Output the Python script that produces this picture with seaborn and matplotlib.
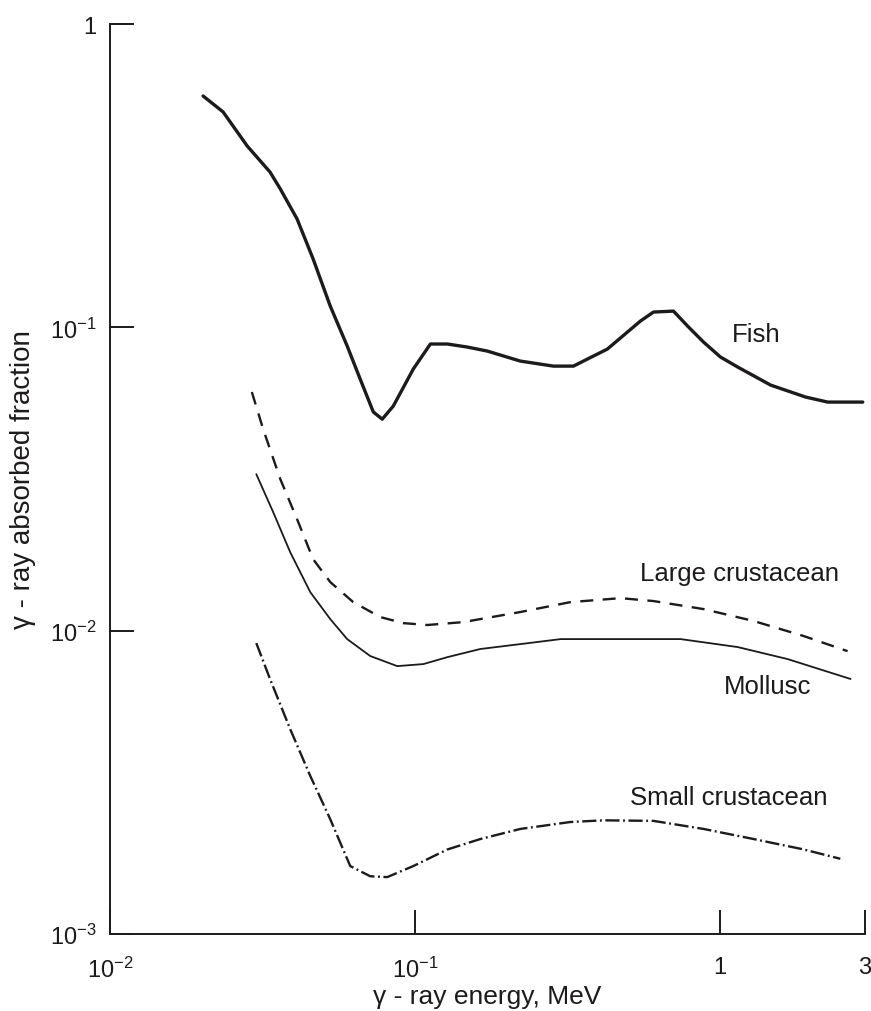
import matplotlib
matplotlib.use("Agg")
import matplotlib.pyplot as plt
import seaborn as sns
import pandas as pd

# ---- data ----
fish_x = [0.0202, 0.0235, 0.0282, 0.0335, 0.0362, 0.0411, 0.0464, 0.0528, 0.060, 0.0662,
          0.0731, 0.0782, 0.085, 0.0989, 0.1125, 0.128, 0.1487, 0.173, 0.222, 0.285,
          0.3316, 0.3685, 0.4285, 0.4986, 0.550, 0.607, 0.706, 0.785, 0.886, 1.007,
          1.146, 1.471, 1.916, 2.264, 2.95]
fish_y = [0.579, 0.513, 0.396, 0.325, 0.286, 0.2276, 0.168, 0.1175, 0.0868, 0.0675,
          0.0526, 0.0498, 0.055, 0.0729, 0.0881, 0.0881, 0.0861, 0.0835, 0.0774, 0.0745,
          0.0745, 0.0786, 0.0848, 0.0965, 0.1049, 0.1123, 0.1131, 0.101, 0.0894, 0.0798,
          0.074, 0.0645, 0.0589, 0.0567, 0.0567]

large_x = [0.0292, 0.0318, 0.0362, 0.0411, 0.0464, 0.0528, 0.0628, 0.0770, 0.0916, 0.110,
           0.144, 0.222, 0.324, 0.473, 0.607, 0.886, 1.294, 1.888, 2.63]
large_y = [0.0612, 0.0462, 0.0316, 0.0233, 0.0172, 0.01446, 0.01242, 0.01109, 0.01059, 0.01044,
           0.01067, 0.01152, 0.01242, 0.0128, 0.01252, 0.01178, 0.01076, 0.0096, 0.00856]

moll_x = [0.0302, 0.0343, 0.039, 0.0454, 0.0528, 0.060, 0.0714, 0.0876, 0.1067, 0.128,
          0.164, 0.222, 0.301, 0.473, 0.745, 1.146, 1.672, 2.69]
moll_y = [0.0328, 0.0246, 0.01816, 0.0134, 0.01092, 0.00938, 0.00825, 0.00764, 0.00776, 0.00818,
          0.0087, 0.00903, 0.00938, 0.00938, 0.00938, 0.00883, 0.00806, 0.00693]

small_x = [0.0302, 0.0335, 0.039, 0.0454, 0.0528, 0.0614, 0.0714, 0.0812, 0.0989, 0.128,
           0.164, 0.222, 0.324, 0.416, 0.607, 0.886, 1.294, 1.888, 2.49]
small_y = [0.0091, 0.00693, 0.00474, 0.00332, 0.00239, 0.001675, 0.00155, 0.00154, 0.001675, 0.0019,
           0.002056, 0.00222, 0.00234, 0.00237, 0.00236, 0.00222, 0.002056, 0.0019, 0.00177]

x_ticks = [0.01, 0.1, 1, 3]
x_tick_labels = ["10$^{-2}$", "10$^{-1}$", "1", "3"]
y_ticks = [0.001, 0.01, 0.1, 1]
y_tick_labels = ["10$^{-3}$", "10$^{-2}$", "10$^{-1}$", "1"]

series_names = ["Fish", "Large crustacean", "Mollusc", "Small crustacean"]

# ---- figure ----
sns.set_theme(style="white")
plt.rcParams["font.family"] = ["Liberation Sans", "DejaVu Sans"]
plt.rcParams["mathtext.fontset"] = "custom"
plt.rcParams["mathtext.rm"] = "Liberation Sans"
plt.rcParams["mathtext.it"] = "Liberation Sans:italic"

fig = plt.figure(figsize=(8.71, 10.12), dpi=100)
ax = fig.add_axes([110 / 871, 77 / 1012, 755 / 871, 910 / 1012])
ax.set_xscale("log")
ax.set_yscale("log")

ink = "#1c1a1a"
sns.lineplot(data=pd.DataFrame({"x": fish_x, "y": fish_y}), x="x", y="y", ax=ax,
             estimator=None, sort=False, color=ink, linewidth=2.4)
sns.lineplot(data=pd.DataFrame({"x": large_x, "y": large_y}), x="x", y="y", ax=ax,
             estimator=None, sort=False, color=ink, linewidth=1.7, linestyle=(0, (5.5, 4)))
sns.lineplot(data=pd.DataFrame({"x": moll_x, "y": moll_y}), x="x", y="y", ax=ax,
             estimator=None, sort=False, color=ink, linewidth=1.3)
sns.lineplot(data=pd.DataFrame({"x": small_x, "y": small_y}), x="x", y="y", ax=ax,
             estimator=None, sort=False, color=ink, linewidth=1.7,
             linestyle=(0, (6, 1.5, 0.8, 1.5)))

label_fs = 18.5
ax.text(1.10, 0.095, series_names[0], fontsize=label_fs, va="center", ha="left", color=ink)
ax.text(0.55, 0.0155, series_names[1], fontsize=label_fs, va="center", ha="left", color=ink)
ax.text(1.03, 0.00657, series_names[2], fontsize=label_fs, va="center", ha="left", color=ink)
ax.text(0.51, 0.00283, series_names[3], fontsize=label_fs, va="center", ha="left", color=ink)

ax.set_xlim(0.01, 3)
ax.set_ylim(0.001, 1)
ax.set_xticks(x_ticks)
ax.set_xticklabels(x_tick_labels)
ax.set_yticks(y_ticks)
ax.set_yticklabels(y_tick_labels)
ax.minorticks_off()

for s in ["top", "right"]:
    ax.spines[s].set_visible(False)
for s in ["left", "bottom"]:
    ax.spines[s].set_color(ink)
    ax.spines[s].set_linewidth(1.4)

ax.tick_params(axis="both", which="major", direction="in", length=17, width=1.4,
               color=ink, labelsize=17, labelcolor=ink)
ax.tick_params(axis="x", pad=16, bottom=True, left=False)
ax.tick_params(axis="y", pad=10, left=True)

ax.set_xlabel("\u03b3 - ray energy, MeV", fontsize=19, color=ink, labelpad=2)
ax.set_ylabel("\u03b3 - ray absorbed fraction", fontsize=20, color=ink, labelpad=10)
ax.grid(False)

fig.savefig("out.png", dpi=100, facecolor="white")
